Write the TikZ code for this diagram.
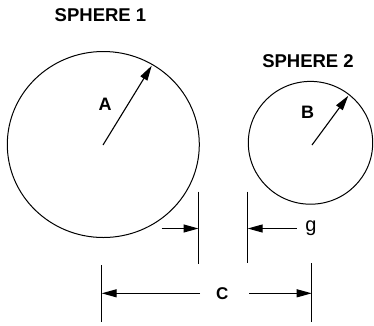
\documentclass[tikz,border=0pt]{standalone}
\usepackage{fontspec}
\setmainfont{Liberation Sans}
\usetikzlibrary{arrows.meta}
\begin{document}
\begin{tikzpicture}[x=1pt,y=-1pt,
  line width=1.1pt,
  lbl/.style={font=\bfseries\fontsize{18.5}{20}\selectfont, inner sep=0pt},
  dim/.style={font=\fontsize{20}{22}\selectfont, inner sep=0pt},
  arr/.style={-{Triangle[length=15pt,width=8pt]}},
  outline/.style={line width=1pt}]
\useasboundingbox (0,0) rectangle (374,325);
% spheres
\coordinate (c1) at (103.3,144.5);
\coordinate (c2) at (310.5,142.8);
\draw[outline] (c1) ellipse [x radius=96, y radius=93];
\draw[outline] (c2) ellipse [x radius=62.2, y radius=61.4];
\coordinate (a1) at (103,145);
\coordinate (a2) at (151.7,65.7);
\coordinate (b1) at (312,145);
\coordinate (b2) at (348.3,95.7);
\draw[arr] (a1) -- (a2);
\draw[arr] (b1) -- (b2);
% labels
\node[lbl] (t1) at (100.5,15) {SPHERE 1};
\node[lbl] (t2) at (308,61) {SPHERE 2};
\node[lbl,font=\bfseries\fontsize{18}{20}\selectfont] (la) at (105,104) {A};
\node[lbl,font=\bfseries\fontsize{18}{20}\selectfont] (lb) at (307.5,112) {B};
% gap dimension
\coordinate (g1t) at (198.5,191.7);
\coordinate (g1b) at (198.5,264.3);
\coordinate (g2t) at (247.7,191.7);
\coordinate (g2b) at (247.7,263.3);
\draw (g1t) -- (g1b);
\draw (g2t) -- (g2b);
\coordinate (gl) at (161.7,228.5);
\coordinate (gle) at (198.5,228.5);
\coordinate (gr) at (296.7,228.5);
\coordinate (gre) at (247.7,228.5);
\draw[arr] (gl) -- (gle);
\draw[arr] (gr) -- (gre);
\node[dim, anchor=base] (g) at (311,231.5) {g};
% center distance
\coordinate (c1t) at (101.7,265);
\coordinate (c1b) at (101.7,321.7);
\coordinate (c2t) at (311.7,263);
\coordinate (c2b) at (311.7,321.7);
\draw (c1t) -- (c1b);
\draw (c2t) -- (c2b);
\node[lbl,font=\bfseries\fontsize{17}{19}\selectfont] (lc) at (222.3,293.5) {C};
\coordinate (cl) at (200,293.3);
\coordinate (cle) at (101.7,293.3);
\coordinate (cr) at (249.3,293.3);
\coordinate (cre) at (311.7,293.3);
\draw[arr] (cl) -- (cle);
\draw[arr] (cr) -- (cre);
\end{tikzpicture}
\end{document}
